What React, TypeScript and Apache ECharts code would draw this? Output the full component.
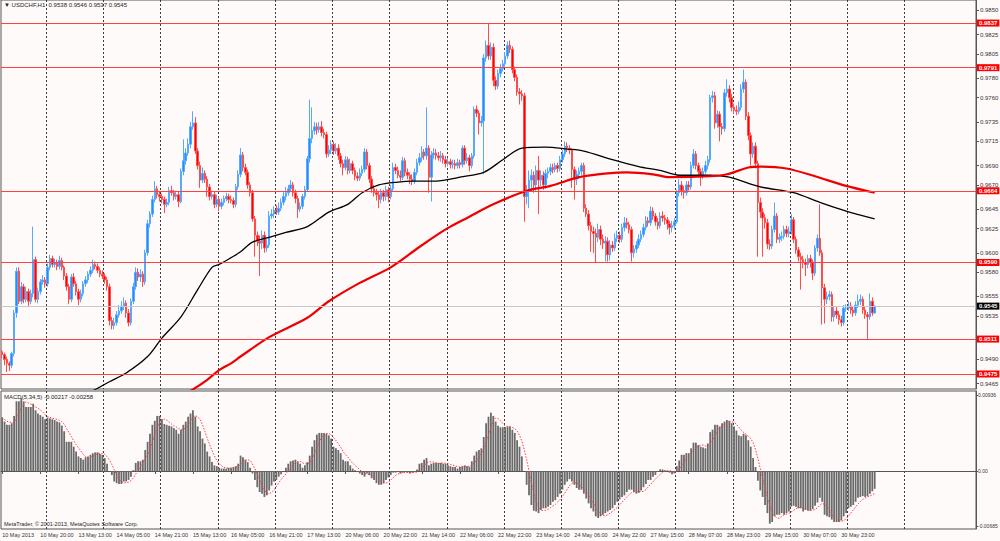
import React, { useEffect, useRef } from 'react';
import * as echarts from 'echarts';

// Prices are stored in pips above BASE (0.9400)
const BASE = 0.94;
const OPEN0 = 98;
const CLOSES = [
95,90,86,84,96,138,181,150,165,152,
160,150,158,193,152,160,170,172,168,185,
194,188,190,186,192,185,176,165,152,175,
168,160,152,158,168,172,178,182,188,186,
182,178,176,172,165,130,125,128,136,140,
145,148,138,128,150,165,180,175,178,170,
200,230,240,255,266,260,258,255,250,252,
264,262,258,260,253,284,295,303,312,330,
334,305,290,275,282,276,268,258,260,250,
255,248,252,256,258,255,254,250,268,281,
301,288,283,270,262,235,218,212,210,218,
205,208,238,240,244,242,246,252,258,262,
266,270,262,256,245,248,258,265,297,318,
326,330,327,330,324,322,302,306,312,305,
308,300,292,288,296,285,292,285,279,277,
282,286,304,290,276,266,262,260,255,262,
258,265,258,266,288,285,280,278,295,283,
280,276,274,283,293,298,304,300,308,278,
301,303,300,298,300,296,292,294,291,292,
290,293,291,308,295,298,290,300,348,344,
334,336,401,414,403,412,378,372,385,390,
395,403,414,410,389,381,366,364,362,258,
264,275,280,270,285,275,280,270,282,284,
288,286,290,287,296,302,310,308,306,286,
276,281,284,290,246,240,228,222,220,216,
224,214,210,212,198,208,205,215,218,214,
226,231,229,224,200,204,208,214,219,226,
233,231,243,238,232,228,238,236,234,230,
226,228,232,262,270,264,262,270,268,290,
302,290,284,280,284,290,296,360,362,334,
343,330,328,365,369,360,350,347,346,350,
369,376,341,321,302,310,292,252,242,236,
231,209,207,224,238,214,216,217,224,220,
222,234,214,203,196,193,190,188,194,190,
179,205,215,200,164,152,155,157,134,140,
136,131,128,143,143,145,141,138,146,150,
152,141,136,134,150,138,145];
const UPPER_WICK = [
2,2,3,2,2,3,4,4,5,3,
5,3,4,34,3,4,3,5,3,4,
4,3,4,3,5,3,2,3,3,3,
4,3,3,4,3,4,3,4,5,3,
3,3,4,3,3,3,4,5,4,6,
5,6,3,4,3,4,5,4,5,3,
3,4,3,4,8,3,4,3,3,4,
4,5,3,4,3,3,22,5,6,5,
12,6,3,4,6,3,3,3,4,3,
5,3,4,3,4,3,4,3,3,4,
7,3,4,3,3,3,3,4,6,5,
4,6,5,5,4,5,6,4,5,6,
4,5,3,3,3,4,3,4,3,40,
24,5,4,5,6,4,3,5,4,3,
5,4,3,4,4,3,5,3,3,4,
5,4,4,3,3,3,4,4,4,4,
3,4,3,4,5,4,4,5,4,3,
4,3,5,4,4,5,6,3,42,3,
4,5,4,4,5,3,4,4,3,4,
4,4,3,3,3,5,3,3,3,4,
3,5,4,5,22,5,4,4,4,5,
4,4,4,5,3,3,3,4,4,3,
6,10,6,4,5,15,5,4,4,4,
4,4,3,3,4,4,5,4,3,2,
3,4,4,3,3,4,4,4,5,5,
6,4,5,5,4,5,4,5,5,4,
4,6,5,3,3,4,4,5,4,4,
5,4,5,4,3,4,4,5,3,3,
3,5,4,3,6,4,5,4,4,4,
5,3,3,3,4,5,4,3,5,4,
4,3,4,4,10,4,4,4,5,6,
5,13,3,4,3,4,4,3,5,4,
4,4,5,4,14,3,4,5,4,4,
5,6,3,3,3,4,4,4,4,4,
3,3,4,35,3,4,5,4,3,4,
4,4,4,3,4,5,4,4,4,7,
5,3,4,3,8,4,1];
const LOWER_WICK = [
4,6,9,6,3,3,5,3,3,4,
3,5,3,4,3,4,3,3,4,3,
3,3,3,4,3,3,4,4,5,3,
3,4,6,3,3,3,3,3,3,3,
3,3,3,4,4,5,4,4,3,3,
3,4,5,4,3,3,3,4,5,5,
3,3,4,3,3,4,5,4,9,3,
3,3,4,3,6,2,4,4,3,4,
3,3,4,8,3,4,10,4,3,4,
3,5,3,3,3,4,3,4,3,3,
3,4,3,4,4,3,22,5,34,6,
5,4,3,3,4,3,3,3,3,4,
3,3,4,5,9,3,3,3,2,4,
5,4,5,3,4,4,4,3,4,4,
3,4,4,8,3,4,3,4,4,3,
3,3,3,4,4,4,4,6,9,4,
5,4,6,3,3,4,3,4,3,4,
4,5,4,3,3,3,4,4,4,16,
25,4,4,3,4,4,4,3,4,4,
4,3,4,3,4,3,6,3,3,4,
12,4,55,4,4,4,6,4,3,4,
3,3,3,4,4,4,4,11,5,26,
8,18,12,8,6,35,6,5,4,5,
4,4,3,4,3,3,3,4,4,19,
21,6,5,4,4,3,5,21,20,26,
5,6,6,19,7,6,4,3,4,4,
3,4,4,4,9,5,4,3,3,3,
3,4,3,4,4,4,3,4,5,6,
7,5,4,2,4,5,6,3,4,3,
3,4,5,11,4,3,4,3,5,6,
5,15,6,3,4,5,4,4,4,3,
3,4,4,5,12,4,5,56,6,40,
6,5,4,3,3,4,4,4,3,4,
4,3,4,4,5,31,6,12,4,5,
7,3,4,3,38,25,5,4,5,5,
4,5,4,3,4,3,4,4,3,3,
4,4,4,24,3,3,1];
// MACD main line, in units of 0.0001
const MACD = [
66,61,57,57,59,68,86,86,90,86,
79,79,79,83,75,71,69,67,64,66,
65,64,63,61,60,56,49,36,36,36,
30,24,18,16,14,17,18,20,22,23,
23,21,20,16,9,0,-5,-13,-15,-16,
-16,-13,-13,-11,-7,1,10,12,12,14,
26,36,46,57,62,68,68,64,58,57,
56,55,53,51,46,51,57,61,67,71,
75,67,55,49,40,34,24,18,11,7,
6,4,3,3,3,4,4,5,6,9,
19,17,14,11,4,-3,-11,-20,-26,-28,
-32,-30,-24,-18,-13,-11,-7,-4,0,4,
9,12,13,14,11,9,4,7,11,19,
30,38,45,47,47,47,46,44,40,30,
28,26,22,14,12,12,7,3,1,-1,
-3,-5,-7,-3,-5,-9,-11,-15,-17,-17,
-15,-11,-8,-5,-2,-2,-1,-3,-2,-1,
-2,-3,-2,-1,2,9,10,14,16,7,
9,10,10,10,10,9,9,7,6,5,
5,3,5,6,7,6,5,12,19,24,
26,28,42,59,67,72,68,61,56,54,
54,54,55,55,51,47,38,30,18,0,
-17,-30,-42,-49,-50,-52,-48,-46,-46,-44,
-42,-38,-36,-32,-28,-23,-17,-13,-10,-13,
-17,-21,-23,-23,-28,-34,-40,-46,-50,-56,
-58,-56,-54,-52,-50,-48,-46,-42,-38,-35,
-32,-30,-26,-23,-23,-26,-28,-27,-24,-20,
-16,-11,-11,-7,-5,-1,2,2,1,0,
-2,-4,-3,6,13,20,20,22,22,28,
35,35,32,30,29,28,34,48,51,57,
57,55,59,61,63,62,59,55,50,44,
43,46,44,38,30,16,5,-12,-24,-32,
-42,-52,-65,-63,-56,-54,-54,-52,-54,-52,
-50,-44,-43,-44,-46,-46,-50,-48,-49,-49,
-47,-43,-39,-33,-38,-54,-56,-57,-60,-63,
-63,-63,-61,-56,-52,-46,-44,-42,-38,-33,
-32,-31,-32,-31,-28,-25,-22];
// moving averages read at sample bars: [bar, pips]
const BLACK_MA = [[30,48],[39,59],[45,67],[52,76],[61,93],[67,112],[75,134],[82,162],[88,185],[91,188],[96,195],[100,201],[105,211],[112,216],[119,221],[128,227],[137,242],[145,250],[151,262],[158,270],[166,273],[172,274],[181,274],[188,276],[192,278],[202,283],[210,296],[218,308],[228,309],[237,307],[244,305],[256,296],[267,289],[276,285],[284,280],[297,280],[305,278],[318,268],[332,262],[343,252],[354,243],[366,235]];
const RED_MA = [[75,52],[80,59],[86,69],[91,79],[96,86],[100,93],[112,113],[128,133],[137,150],[150,169],[163,185],[175,206],[184,221],[188,227],[195,236],[206,250],[220,264],[230,269],[242,278],[254,282],[262,283],[273,281],[280,278],[297,279],[304,281],[313,288],[318,289],[329,287],[341,279],[354,269],[366,262]];
const TIME_LABELS = ['10 May 2013','10 May 20:00','13 May 13:00','14 May 05:00','14 May 21:00','15 May 13:00','16 May 05:00','16 May 21:00','17 May 13:00','20 May 06:00','20 May 22:00','21 May 14:00','22 May 06:00','22 May 22:00','23 May 14:00','24 May 06:00','24 May 22:00','27 May 15:00','28 May 07:00','28 May 23:00','29 May 15:00','30 May 07:00','30 May 23:00'];
const PRICE_TICKS = [0.9850,0.9825,0.9805,0.9780,0.9760,0.9735,0.9715,0.9690,0.9670,0.9645,0.9625,0.9600,0.9580,0.9555,0.9535,0.9490,0.9465];
const MACD_TICKS = [0.00936, 0, -0.00685];
const LEVELS = [0.9837, 0.9791, 0.9664, 0.9590, 0.9511, 0.9475];
const CURRENT_PRICE = 0.9545;
const MACD_TITLE = 'MACD(5,34,5) -0.00217 -0.00258';
const COPYRIGHT = 'MetaTrader, \u00a9 2001-2013, MetaQuotes Software Corp.';
const SLOTS = 409;
const LABEL_STEP = 16;
const GRID_START = 19;
const GRID_STEP = 24;
const GRID_END = 379;

const FONT = "'Liberation Sans', Arial, sans-serif";

export default function App() {
  const ref = useRef<HTMLDivElement>(null);
  useEffect(() => {
    document.body.style.margin = '0';
    document.body.style.background = '#FFFAFA';
    const chart = echarts.init(ref.current!, null, { renderer: 'svg' });
    const px = (v: number) => +(BASE + v / 10000).toFixed(4);
    const candles = CLOSES.map((c, i) => {
      const o = i === 0 ? OPEN0 : CLOSES[i - 1];
      const h = Math.max(o, c) + UPPER_WICK[i];
      const l = Math.min(o, c) - LOWER_WICK[i];
      return [px(o), px(c), px(l), px(h)];
    });
    const last = candles[candles.length - 1];
    const title = `USDCHF,H1  ${last[0].toFixed(4)} ${last[3].toFixed(4)} ${last[2].toFixed(4)} ${last[1].toFixed(4)}`;
    const macdVals = MACD.map((m) => m / 10000);
    const signal = macdVals.map((_, i) => {
      const s = Math.max(0, i - 4);
      const arr = macdVals.slice(s, i + 1);
      return arr.reduce((a, b) => a + b, 0) / arr.length;
    });
    const cats = Array.from({ length: SLOTS }, (_, i) => String(i));
    const gridLine = (i: number) => i >= GRID_START && i <= GRID_END && (i - GRID_START) % GRID_STEP === 0;
    const labelAt = (i: number) => i % LABEL_STEP === 0 && i / LABEL_STEP < TIME_LABELS.length;
    const splitLine = { show: true, interval: gridLine, lineStyle: { color: '#3a3a3a', type: [2, 2], width: 1 } };
    const lvlLabel = (bg: string) => ({
      show: true, position: 'end', distance: 1,
      formatter: (p: any) => Number(p.value).toFixed(4),
      color: '#fff', backgroundColor: bg, padding: [1, 2, 0, 2],
      fontSize: 6, fontFamily: FONT, fontWeight: 'bold',
    });
    const option: any = {
      animation: false,
      backgroundColor: '#FFFAFA',
      grid: [
        { left: 1, right: 24, top: 0, height: 389, show: true, borderColor: '#555', borderWidth: 1, backgroundColor: 'transparent', containLabel: false, outerBoundsMode: 'none' },
        { left: 1, right: 24, top: 391, height: 138, show: true, borderColor: '#555', borderWidth: 1, backgroundColor: 'transparent', containLabel: false, outerBoundsMode: 'none' },
      ],
      xAxis: [
        { type: 'category', gridIndex: 0, data: cats, boundaryGap: true, axisLine: { show: false }, axisTick: { show: false }, axisLabel: { show: false }, splitLine },
        {
          type: 'category', gridIndex: 1, data: cats, boundaryGap: true,
          axisLine: { show: true, lineStyle: { color: '#555' } },
          axisTick: { show: true, interval: (i: number) => labelAt(i), length: 3, alignWithLabel: true, lineStyle: { color: '#555' } },
          axisLabel: {
            show: true, interval: (i: number) => labelAt(i), align: 'left', margin: 3,
            showMinLabel: true, hideOverlap: false,
            fontSize: 5.5, fontFamily: FONT, color: '#333',
            formatter: (v: string) => TIME_LABELS[parseInt(v, 10) / LABEL_STEP] || '',
          },
          splitLine,
        },
      ],
      yAxis: [
        {
          type: 'value', gridIndex: 0, position: 'right', min: 0.94595, max: 0.98608, scale: true,
          splitLine: { show: false },
          axisLine: { show: true, lineStyle: { color: '#555' } },
          axisTick: { show: true, length: 3, customValues: PRICE_TICKS, lineStyle: { color: '#555' } },
          axisLabel: { show: true, customValues: PRICE_TICKS, margin: 4, fontSize: 6, fontFamily: FONT, color: '#333', formatter: (v: number) => v.toFixed(4) },
        },
        {
          type: 'value', gridIndex: 1, position: 'right', min: -0.00716, max: 0.009877, scale: true,
          splitLine: { show: false },
          axisLine: { show: true, lineStyle: { color: '#555' } },
          axisTick: { show: true, length: 2, customValues: MACD_TICKS, lineStyle: { color: '#555' } },
          axisLabel: { show: true, customValues: MACD_TICKS, margin: 2, fontSize: 5, fontFamily: FONT, color: '#333', formatter: (v: number) => (v === 0 ? '0.00' : v.toFixed(5)) },
        },
      ],
      series: [
        {
          type: 'candlestick', xAxisIndex: 0, yAxisIndex: 0, data: candles, barWidth: 2,
          itemStyle: { color: '#1E90FF', color0: '#FF0000', borderColor: '#55aaff', borderColor0: '#ff4d4d', borderWidth: 1 },
          markLine: {
            silent: true, symbol: 'none', animation: false, precision: 4,
            data: [
              ...LEVELS.map((v) => ({ yAxis: v, lineStyle: { color: '#ff4040', width: 1.2, type: 'solid' }, label: lvlLabel('#ff0000') })),
              { yAxis: CURRENT_PRICE, lineStyle: { color: '#c8c8c8', width: 1, type: 'solid' }, label: lvlLabel('#000000') },
            ],
          },
        },
        {
          type: 'line', xAxisIndex: 0, yAxisIndex: 0, data: BLACK_MA.map(([b, v]) => [b, px(v)]),
          symbol: 'none', smooth: 0.3, lineStyle: { color: '#000', width: 1.3 }, z: 3,
        },
        {
          type: 'line', xAxisIndex: 0, yAxisIndex: 0, data: RED_MA.map(([b, v]) => [b, px(v)]),
          symbol: 'none', smooth: 0.3, lineStyle: { color: '#ee0000', width: 2.2 }, z: 3,
        },
        {
          type: 'bar', xAxisIndex: 1, yAxisIndex: 1, data: macdVals, barWidth: 1.8,
          itemStyle: { color: '#6a6a6a' },
        },
        {
          type: 'line', xAxisIndex: 1, yAxisIndex: 1, data: signal, symbol: 'none',
          lineStyle: { color: '#ff3b3b', width: 1, type: [1.5, 1.5] }, z: 4,
        },
      ],
      graphic: [
        { type: 'text', left: 4, top: 2, style: { text: '\u25BC ' + title, fontSize: 6, fontFamily: FONT, fill: '#222' } },
        { type: 'text', left: 4, top: 394, style: { text: MACD_TITLE, fontSize: 6, fontFamily: FONT, fill: '#222' } },
        { type: 'text', left: 4, top: 521, style: { text: COPYRIGHT, fontSize: 5.5, fontFamily: FONT, fill: '#222' } },
      ],
    };
    chart.setOption(option);
    return () => chart.dispose();
  }, []);
  return <div ref={ref} style={{ width: 1000, height: 541 }} />;
}
